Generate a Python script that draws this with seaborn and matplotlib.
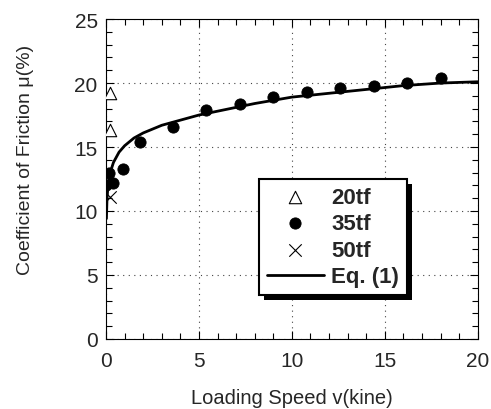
import numpy as np
import pandas as pd
import matplotlib
matplotlib.use("Agg")
import matplotlib.pyplot as plt
import matplotlib.patheffects as pe
from matplotlib.ticker import MultipleLocator
import seaborn as sns

v_20tf = [0.2, 0.2]
mu_20tf = [19.2, 16.3]

v_35tf = [0.0, 0.15, 0.4, 0.9, 1.8, 3.6, 5.4, 7.2, 9.0, 10.8, 12.6, 14.4, 16.2, 18.0]
mu_35tf = [12.0, 13.0, 12.2, 13.3, 15.4, 16.6, 17.9, 18.4, 18.9, 19.3, 19.6, 19.8, 20.0, 20.4]

v_50tf = [0.2]
mu_50tf = [11.1]

# Eq. (1) curve
v_eq = [0.02, 0.05, 0.1, 0.2, 0.4, 0.7, 1.0, 1.5, 2.0, 3.0, 4.0, 5.0, 6.0, 7.0,
        8.0, 10.0, 12.0, 14.0, 16.0, 18.0, 20.0]
mu_eq = [9.4, 10.9, 11.9, 12.9, 13.8, 14.6, 15.1, 15.7, 16.1, 16.7, 17.1, 17.5,
         17.8, 18.1, 18.4, 18.9, 19.2, 19.5, 19.8, 20.0, 20.1]

sns.set_style("ticks")
plt.rcParams['font.family'] = ['Liberation Sans', 'DejaVu Sans']

fig = plt.figure(figsize=(4.91, 4.10), dpi=100)
ax = fig.add_axes([0.216, 0.171, 0.757, 0.780])

sns.lineplot(x=v_eq, y=mu_eq, ax=ax, color='black', linewidth=2.0,
             label='Eq. (1)', zorder=3)
sns.scatterplot(x=v_20tf, y=mu_20tf, ax=ax, marker='^', s=80,
                facecolor='white', edgecolor='black', linewidth=0.8,
                label='20tf', zorder=4)
sns.scatterplot(x=v_35tf, y=mu_35tf, ax=ax, marker='o', s=65,
                color='black', edgecolor='black', label='35tf', zorder=4)
sns.scatterplot(x=v_50tf, y=mu_50tf, ax=ax, marker='x', s=80,
                color='black', linewidth=0.8, label='50tf', zorder=4)

ax.set_xlim(0, 20)
ax.set_ylim(0, 25)
ax.xaxis.set_major_locator(MultipleLocator(5))
ax.yaxis.set_major_locator(MultipleLocator(5))
ax.xaxis.set_minor_locator(MultipleLocator(1))
ax.yaxis.set_minor_locator(MultipleLocator(1))
ax.tick_params(which='both', direction='in', top=True, right=True,
               color='black', width=0.8)
ax.tick_params(which='major', length=6, labelsize=15)
ax.tick_params(which='minor', length=4)
ax.tick_params(axis='x', which='major', pad=9)
ax.tick_params(axis='y', which='major', pad=6)
for s in ax.spines.values():
    s.set_linewidth(0.8)
    s.set_color('black')

ax.grid(True, which='major', color='#444444', linestyle=(0, (1, 4)), linewidth=0.8)

ax.set_xlabel('Loading Speed v(kine)', fontsize=14.5, labelpad=13)
ax.set_ylabel('Coefficient of Friction μ(%)', fontsize=14)
ax.yaxis.set_label_coords(-0.194, 0.5625)

handles, labels = ax.get_legend_handles_labels()
order = [labels.index(k) for k in ['20tf', '35tf', '50tf', 'Eq. (1)']]
leg = ax.legend([handles[i] for i in order], [labels[i] for i in order],
                loc='upper left', bbox_to_anchor=(0.411, 0.5, 0.40, 0.0),
                mode='expand', borderaxespad=0, fancybox=False, framealpha=1,
                edgecolor='black', handlelength=2.6, handletextpad=0.3,
                borderpad=0.35, labelspacing=0.25,
                prop={'family': ['Liberation Sans Narrow', 'Liberation Sans'],
                      'size': 16, 'weight': 'bold'})
frame = leg.get_frame()
frame.set_linewidth(1.5)
frame.set_path_effects([pe.SimplePatchShadow(offset=(3.5, -3.5), shadow_rgbFace='black', alpha=1),
                        pe.Normal()])

fig.savefig('out.png', dpi=100)
